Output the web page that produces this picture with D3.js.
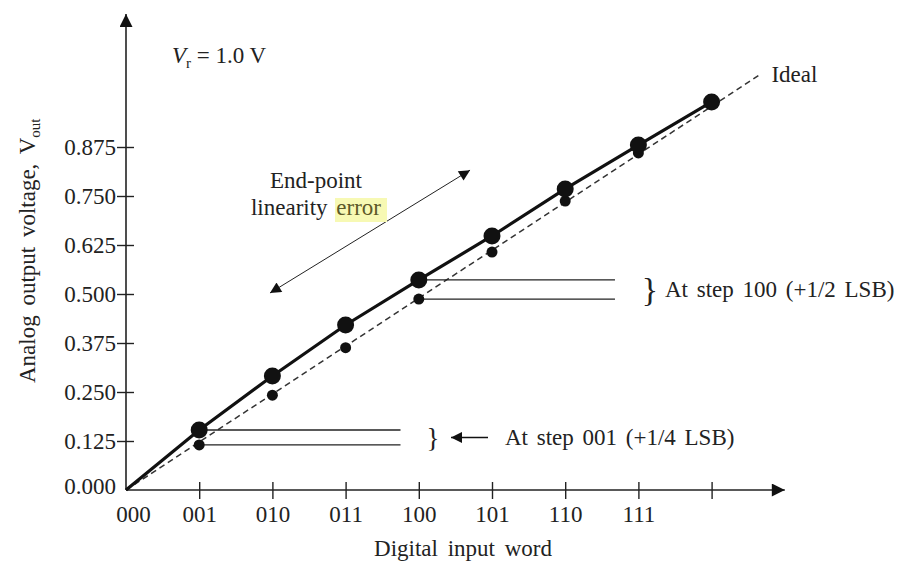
<!DOCTYPE html>
<html>
<head>
<meta charset="utf-8">
<script src="https://cdn.jsdelivr.net/npm/d3@7"></script>
<style>
body { margin: 0; background: #fff; }
text { font-family: "Liberation Serif", "DejaVu Serif", serif; fill: #222; }
</style>
</head>
<body>
<script>
const w = 911,
	h = 562;

// input codes along the x axis (last tick has no label)
const codes = ['000', '001', '010', '011', '100', '101', '110', '111', ''];
const yTicks = [0, 0.125, 0.25, 0.375, 0.5, 0.625, 0.75, 0.875];
// big dots: actual output, index = input code
const actual = [0, 0.153, 0.291, 0.421, 0.536, 0.648, 0.768, 0.880, 0.990];
// small dots: ideal output
const ideal = [0, 0.115, 0.242, 0.363, 0.487, 0.607, 0.737, 0.860];
// end of the dashed ideal line
const idealEnd = [8.68, 1.062];
// error markers
const steps = [
	{code: 1, to: 3.75, label: 'At step 001 (+1/4 LSB)'},
	{code: 4, to: 6.68, label: 'At step 100 (+1/2 LSB)'}
];

const x = d3.scaleLinear().domain([0, 8]).range([126, 711.6]);
const y = d3.scaleLinear().domain([0, 1]).range([490, 98]);

const svg = d3.select('body')
	.append('svg')
	.attr('width', w)
	.attr('height', h);

const defs = svg.append('defs');
defs.append('marker')
	.attr('id', 'big')
	.attr('viewBox', '0 0 10 10')
	.attr('refX', 10).attr('refY', 5)
	.attr('markerUnits', 'userSpaceOnUse')
	.attr('markerWidth', 15).attr('markerHeight', 13)
	.attr('orient', 'auto')
	.append('path').attr('d', 'M0,0L10,5L0,10Z').attr('fill', '#111');
defs.append('marker')
	.attr('id', 'small')
	.attr('viewBox', '0 0 10 10')
	.attr('refX', 10).attr('refY', 5)
	.attr('markerUnits', 'userSpaceOnUse')
	.attr('markerWidth', 13).attr('markerHeight', 11)
	.attr('orient', 'auto-start-reverse')
	.append('path').attr('d', 'M0,0L10,5L0,10Z').attr('fill', '#111');

//axes with arrow heads
svg.append('line')
	.attr('x1', x(0)).attr('y1', y(0)).attr('x2', x(9)).attr('y2', y(0))
	.attr('stroke', '#222').attr('stroke-width', 1.6)
	.attr('marker-end', 'url(#big)');
svg.append('line')
	.attr('x1', x(0)).attr('y1', y(0)).attr('x2', x(0)).attr('y2', y(1.214))
	.attr('stroke', '#222').attr('stroke-width', 1.6)
	.attr('marker-end', 'url(#big)');

const xAxis = svg.append('g')
	.attr('transform', `translate(0,${y(0)})`)
	.call(d3.axisBottom(x).tickValues(d3.range(9)).tickFormat((d) => codes[d]).tickSizeOuter(0));
xAxis.select('.domain').remove();
xAxis.selectAll('.tick line').attr('y1', -8).attr('y2', 9).attr('stroke', '#222').attr('stroke-width', 1.4)
	.filter((d) => d === 0).remove();
xAxis.selectAll('.tick text').attr('y', 32).attr('dy', 0)
	.style('font-size', '23px').style('font-family', '"Liberation Serif", serif').attr('fill', '#222')
	.attr('dx', (d) => d === 0 ? 7 : 0);

const yAxis = svg.append('g')
	.attr('transform', `translate(${x(0)},0)`)
	.call(d3.axisLeft(y).tickValues(yTicks).tickFormat(d3.format('.3f')).tickSizeOuter(0));
yAxis.select('.domain').remove();
yAxis.selectAll('.tick line').attr('x1', -9).attr('x2', 8).attr('stroke', '#222').attr('stroke-width', 1.4)
	.filter((d) => d === 0).remove();
yAxis.selectAll('.tick text').attr('x', -10).attr('dy', '0.32em')
	.style('font-size', '23px').style('font-family', '"Liberation Serif", serif').attr('fill', '#222')
	.attr('transform', (d) => d === 0 ? 'translate(0,-4)' : null);

//axis titles
svg.append('text')
	.attr('x', 463).attr('y', 556)
	.attr('text-anchor', 'middle')
	.style('font-size', '23px').style('word-spacing', '4px')
	.text('Digital input word');
const yl = svg.append('text')
	.attr('transform', `translate(35,${y(0.6) - 4}) rotate(-90)`)
	.attr('text-anchor', 'middle')
	.style('font-size', '23px').style('word-spacing', '4px');
yl.append('tspan').text('Analog output voltage, V');
yl.append('tspan').attr('dy', 5).style('font-size', '15px').text('out');

//reference voltage
const vr = svg.append('text').attr('x', 172).attr('y', 63).style('font-size', '23px');
vr.append('tspan').style('font-style', 'italic').text('V');
vr.append('tspan').attr('dy', 5).style('font-size', '15px').text('r');
vr.append('tspan').attr('dy', -5).text(' = 1.0 V');

//ideal dashed line
svg.append('line')
	.attr('x1', x(0)).attr('y1', y(0))
	.attr('x2', x(idealEnd[0])).attr('y2', y(idealEnd[1]))
	.attr('stroke', '#333').attr('stroke-width', 1.5)
	.attr('stroke-dasharray', '6,4');
svg.append('text')
	.attr('x', x(idealEnd[0]) + 10).attr('y', y(idealEnd[1]) + 8)
	.style('font-size', '23px')
	.text('Ideal');

//step error reference lines
steps.forEach((s) => {
	[actual[s.code], ideal[s.code]].forEach((v) => {
		svg.append('line')
			.attr('x1', x(s.code)).attr('x2', x(s.to))
			.attr('y1', y(v)).attr('y2', y(v))
			.attr('stroke', '#222').attr('stroke-width', 1.4);
	});
});

//actual transfer curve
svg.append('path')
	.datum(actual)
	.attr('d', d3.line().x((d, i) => x(i)).y((d) => y(d)))
	.attr('fill', 'none')
	.attr('stroke', '#111')
	.attr('stroke-width', 3.2);

svg.selectAll('circle.ideal')
	.data(ideal.slice(1))
	.enter()
	.append('circle')
	.attr('class', 'ideal')
	.attr('cx', (d, i) => x(i + 1))
	.attr('cy', (d) => y(d))
	.attr('r', 5.5)
	.attr('fill', '#111');

svg.selectAll('circle.actual')
	.data(actual.slice(1))
	.enter()
	.append('circle')
	.attr('class', 'actual')
	.attr('cx', (d, i) => x(i + 1))
	.attr('cy', (d) => y(d))
	.attr('r', 8.5)
	.attr('fill', '#111');

//step annotations
const s1 = (actual[1] + ideal[1]) / 2;
svg.append('text')
	.attr('x', 433).attr('y', y(s1) + 1)
	.attr('text-anchor', 'middle').attr('dominant-baseline', 'central')
	.style('font-size', '27px')
	.text('}');
svg.append('line')
	.attr('x1', 488).attr('x2', 451)
	.attr('y1', y(s1)).attr('y2', y(s1))
	.attr('stroke', '#111').attr('stroke-width', 1.5)
	.attr('marker-end', 'url(#small)');
svg.append('text')
	.attr('x', 505).attr('y', y(s1) + 8)
	.style('font-size', '23px').style('word-spacing', '3px')
	.text(steps[0].label);

const s4 = (actual[4] + ideal[4]) / 2;
svg.append('text')
	.attr('x', 650).attr('y', y(s4))
	.attr('text-anchor', 'middle').attr('dominant-baseline', 'central')
	.style('font-size', '34px')
	.text('}');
svg.append('text')
	.attr('x', 665).attr('y', y(s4) + 8)
	.style('font-size', '23px').style('word-spacing', '3px')
	.text(steps[1].label);

//end-point linearity error
svg.append('line')
	.attr('x1', x(1.967)).attr('y1', y(0.5026))
	.attr('x2', x(4.70)).attr('y2', y(0.816))
	.attr('stroke', '#222').attr('stroke-width', 1)
	.attr('marker-start', 'url(#small)')
	.attr('marker-end', 'url(#small)');
svg.append('rect')
	.attr('x', 335).attr('y', 198).attr('width', 52).attr('height', 24)
	.attr('fill', '#f7f9b4');
svg.append('text')
	.attr('x', 316).attr('y', 188)
	.attr('text-anchor', 'middle')
	.style('font-size', '23px')
	.text('End-point');
const le = svg.append('text')
	.attr('x', 316).attr('y', 215)
	.attr('text-anchor', 'middle')
	.style('font-size', '23px').style('word-spacing', '3px');
le.append('tspan').text('linearity ');
le.append('tspan').attr('fill', '#5d5a28').text('error');
</script>
</body>
</html>
